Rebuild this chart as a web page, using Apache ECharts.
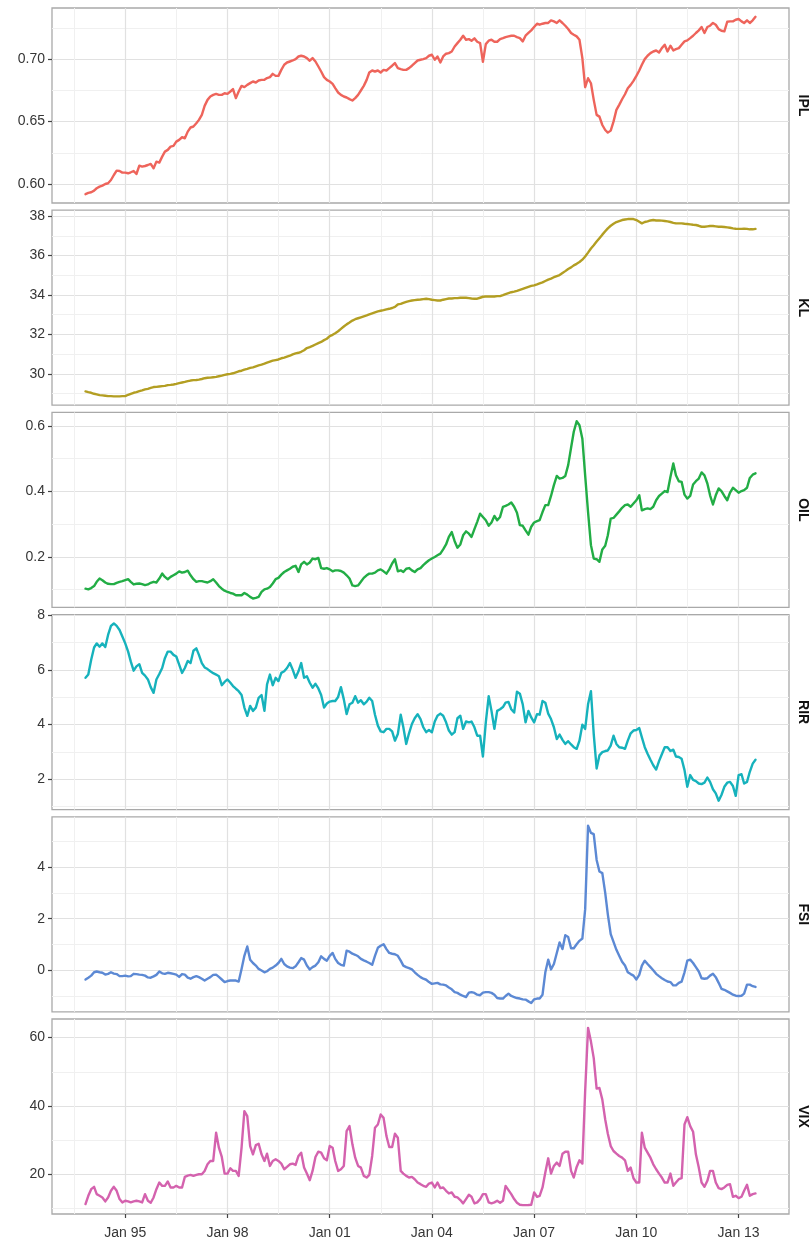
<!DOCTYPE html>
<html>
<head>
<meta charset="utf-8">
<title>IPL, KL, OIL, RIR, FSI, VIX</title>
<script src="https://cdn.jsdelivr.net/npm/echarts@6/dist/echarts.min.js"></script>
<style>
  html, body { margin: 0; padding: 0; background: #ffffff; }
  #chart { width: 811px; height: 1241px; }
</style>
</head>
<body>
<div id="chart"></div>
<script>
// Monthly observations, November 1993 through July 2013
const START_YEAR = 1993;
const START_MONTH = 10; // 0-based: November

const IPL = [
  0.5920, 0.5930,
  0.5935, 0.5948, 0.5967, 0.5980, 0.5988, 0.6001, 0.6007, 0.6033, 0.6073, 0.6108, 0.6105, 0.6092,
  0.6092, 0.6087, 0.6095, 0.6105, 0.6081, 0.6148, 0.6140, 0.6145, 0.6153, 0.6162, 0.6127, 0.6180,
  0.6172, 0.6220, 0.6260, 0.6274, 0.6300, 0.6306, 0.6340, 0.6354, 0.6375, 0.6367, 0.6420, 0.6453,
  0.6461, 0.6487, 0.6514, 0.6554, 0.6626, 0.6674, 0.6701, 0.6714, 0.6722, 0.6714, 0.6714, 0.6727,
  0.6722, 0.6741, 0.6760, 0.6688, 0.6741, 0.6786, 0.6776, 0.6794, 0.6808, 0.6821, 0.6813, 0.6829,
  0.6834, 0.6834, 0.6848, 0.6856, 0.6882, 0.6866, 0.6866, 0.6914, 0.6955, 0.6973, 0.6981, 0.6989,
  0.7000, 0.7021, 0.7027, 0.7021, 0.7008, 0.6987, 0.7008, 0.6981, 0.6941, 0.6901, 0.6856, 0.6834,
  0.6821, 0.6802, 0.6768, 0.6733, 0.6714, 0.6701, 0.6693, 0.6680, 0.6669, 0.6688, 0.6714, 0.6749,
  0.6786, 0.6834, 0.6893, 0.6909, 0.6901, 0.6909, 0.6893, 0.6914, 0.6909, 0.6928, 0.6947, 0.6968,
  0.6928, 0.6920, 0.6914, 0.6914, 0.6928, 0.6947, 0.6968, 0.6989, 0.6995, 0.7000, 0.7008, 0.7027,
  0.7035, 0.6995, 0.7021, 0.6973, 0.7021, 0.7043, 0.7048, 0.7061, 0.7101, 0.7128, 0.7155, 0.7187,
  0.7155, 0.7160, 0.7147, 0.7166, 0.7139, 0.7128, 0.6979, 0.7120, 0.7147, 0.7155, 0.7139, 0.7139,
  0.7160, 0.7168, 0.7176, 0.7182, 0.7187, 0.7187, 0.7176, 0.7168, 0.7142, 0.7187, 0.7209, 0.7230,
  0.7257, 0.7283, 0.7275, 0.7283, 0.7289, 0.7289, 0.7310, 0.7302, 0.7289, 0.7310, 0.7289, 0.7267,
  0.7241, 0.7209, 0.7195, 0.7182, 0.7155, 0.7008, 0.6775, 0.6847, 0.6807, 0.6674, 0.6554, 0.6540,
  0.6473, 0.6433, 0.6412, 0.6428, 0.6500, 0.6594, 0.6634, 0.6679, 0.6719, 0.6767, 0.6794, 0.6826,
  0.6866, 0.6909, 0.6955, 0.7000, 0.7027, 0.7048, 0.7061, 0.7069, 0.7053, 0.7088, 0.7115, 0.7061,
  0.7107, 0.7069, 0.7080, 0.7088, 0.7115, 0.7142, 0.7150, 0.7168, 0.7187, 0.7209, 0.7230, 0.7257,
  0.7209, 0.7257, 0.7267, 0.7289, 0.7275, 0.7240, 0.7227, 0.7222, 0.7299, 0.7302, 0.7302, 0.7315,
  0.7321, 0.7302, 0.7289, 0.7310, 0.7289, 0.7310, 0.7338
];

const KL = [
  29.11, 29.07,
  29.04, 28.99, 28.96, 28.92, 28.91, 28.89, 28.87, 28.87, 28.86, 28.86, 28.86, 28.87,
  28.87, 28.94, 28.99, 29.04, 29.07, 29.12, 29.16, 29.21, 29.24, 29.29, 29.33, 29.34,
  29.36, 29.38, 29.39, 29.43, 29.44, 29.46, 29.49, 29.53, 29.56, 29.59, 29.63, 29.66,
  29.68, 29.69, 29.71, 29.74, 29.78, 29.80, 29.81, 29.83, 29.85, 29.88, 29.91, 29.95,
  29.98, 30.00, 30.03, 30.08, 30.13, 30.16, 30.21, 30.25, 30.30, 30.33, 30.38, 30.43,
  30.47, 30.52, 30.57, 30.62, 30.67, 30.70, 30.73, 30.79, 30.82, 30.87, 30.92, 30.99,
  31.04, 31.07, 31.12, 31.20, 31.31, 31.36, 31.42, 31.49, 31.56, 31.62, 31.71, 31.78,
  31.91, 31.98, 32.06, 32.16, 32.28, 32.40, 32.51, 32.60, 32.70, 32.77, 32.82, 32.87,
  32.92, 32.97, 33.02, 33.07, 33.12, 33.17, 33.20, 33.23, 33.27, 33.30, 33.34, 33.40,
  33.52, 33.55, 33.60, 33.65, 33.69, 33.72, 33.74, 33.76, 33.77, 33.79, 33.81, 33.79,
  33.76, 33.74, 33.72, 33.72, 33.76, 33.79, 33.82, 33.82, 33.84, 33.84, 33.86, 33.86,
  33.86, 33.84, 33.82, 33.81, 33.81, 33.86, 33.91, 33.92, 33.92, 33.92, 33.92, 33.94,
  33.94, 33.99, 34.04, 34.09, 34.14, 34.17, 34.21, 34.26, 34.31, 34.36, 34.41, 34.46,
  34.49, 34.54, 34.59, 34.64, 34.71, 34.78, 34.83, 34.90, 34.96, 35.01, 35.11, 35.21,
  35.32, 35.40, 35.50, 35.58, 35.67, 35.79, 35.95, 36.15, 36.36, 36.52, 36.71, 36.88,
  37.06, 37.23, 37.38, 37.51, 37.61, 37.70, 37.75, 37.80, 37.83, 37.85, 37.85, 37.85,
  37.80, 37.71, 37.63, 37.70, 37.73, 37.78, 37.80, 37.78, 37.78, 37.77, 37.75, 37.73,
  37.70, 37.66, 37.63, 37.63, 37.63, 37.61, 37.60, 37.58, 37.56, 37.55, 37.51, 37.46,
  37.46, 37.48, 37.50, 37.50, 37.48, 37.46, 37.46, 37.45, 37.43, 37.41, 37.38, 37.36,
  37.35, 37.35, 37.36, 37.35, 37.33, 37.33, 37.35
];

const OIL = [
  0.103, 0.101,
  0.105, 0.111, 0.124, 0.134, 0.129, 0.122, 0.118, 0.117, 0.117, 0.121, 0.124, 0.126,
  0.129, 0.132, 0.124, 0.116, 0.118, 0.119, 0.117, 0.114, 0.116, 0.121, 0.124, 0.122,
  0.134, 0.149, 0.139, 0.132, 0.139, 0.144, 0.149, 0.156, 0.152, 0.154, 0.158, 0.144,
  0.132, 0.124, 0.126, 0.126, 0.124, 0.122, 0.126, 0.132, 0.122, 0.111, 0.103, 0.097,
  0.093, 0.090, 0.088, 0.083, 0.083, 0.083, 0.090, 0.085, 0.078, 0.073, 0.075, 0.078,
  0.093, 0.101, 0.103, 0.108, 0.119, 0.132, 0.136, 0.146, 0.154, 0.159, 0.164, 0.170,
  0.173, 0.154, 0.177, 0.185, 0.177, 0.183, 0.195, 0.193, 0.197, 0.166, 0.164, 0.166,
  0.162, 0.156, 0.159, 0.159, 0.157, 0.152, 0.144, 0.134, 0.113, 0.111, 0.113, 0.124,
  0.136, 0.144, 0.149, 0.149, 0.152, 0.159, 0.162, 0.156, 0.149, 0.162, 0.180, 0.193,
  0.156, 0.159, 0.154, 0.164, 0.166, 0.159, 0.154, 0.162, 0.166, 0.175, 0.183, 0.190,
  0.195, 0.200, 0.205, 0.210, 0.223, 0.238, 0.261, 0.276, 0.248, 0.228, 0.238, 0.266,
  0.278, 0.271, 0.261, 0.285, 0.307, 0.332, 0.322, 0.312, 0.295, 0.305, 0.325, 0.312,
  0.322, 0.353, 0.356, 0.360, 0.366, 0.353, 0.335, 0.297, 0.295, 0.281, 0.268, 0.292,
  0.305, 0.309, 0.312, 0.337, 0.358, 0.358, 0.386, 0.419, 0.447, 0.439, 0.441, 0.447,
  0.480, 0.533, 0.582, 0.614, 0.602, 0.561, 0.449, 0.337, 0.236, 0.195, 0.193, 0.185,
  0.223, 0.234, 0.266, 0.317, 0.319, 0.329, 0.339, 0.350, 0.358, 0.360, 0.353, 0.363,
  0.373, 0.388, 0.342, 0.346, 0.348, 0.346, 0.353, 0.373, 0.386, 0.393, 0.401, 0.398,
  0.444, 0.485, 0.449, 0.431, 0.429, 0.390, 0.378, 0.386, 0.421, 0.431, 0.439, 0.458,
  0.449, 0.424, 0.388, 0.360, 0.388, 0.409, 0.401, 0.386, 0.373, 0.396, 0.411, 0.404,
  0.396, 0.401, 0.404, 0.411, 0.441, 0.451, 0.455
];

const RIR = [
  5.71, 5.83,
  6.37, 6.82, 6.97, 6.85, 6.97, 6.84, 7.28, 7.61, 7.70, 7.61, 7.46, 7.22,
  6.97, 6.67, 6.31, 5.97, 6.13, 6.21, 5.89, 5.79, 5.65, 5.37, 5.16, 5.65,
  5.85, 6.07, 6.43, 6.67, 6.67, 6.55, 6.49, 6.19, 5.89, 6.07, 6.33, 6.25,
  6.70, 6.79, 6.55, 6.25, 6.09, 6.03, 5.95, 5.88, 5.83, 5.77, 5.44, 5.56,
  5.65, 5.53, 5.41, 5.31, 5.22, 5.08, 4.62, 4.32, 4.68, 4.50, 4.62, 4.98,
  5.08, 4.50, 5.47, 5.83, 5.44, 5.71, 5.59, 5.89, 5.95, 6.07, 6.25, 6.01,
  5.71, 5.95, 6.25, 5.71, 5.77, 5.53, 5.35, 5.49, 5.32, 5.08, 4.62, 4.77,
  4.84, 4.86, 4.86, 5.01, 5.37, 4.92, 4.38, 4.74, 4.80, 5.04, 4.80, 4.89,
  4.74, 4.84, 4.98, 4.86, 4.36, 3.96, 3.75, 3.72, 3.84, 3.84, 3.75, 3.41,
  3.65, 4.36, 3.90, 3.29, 3.68, 4.02, 4.23, 4.38, 4.20, 3.90, 3.72, 3.80,
  3.72, 4.11, 4.32, 4.40, 4.32, 4.08, 3.78, 3.63, 3.72, 4.23, 4.32, 3.84,
  4.11, 4.08, 4.11, 3.90, 3.59, 3.59, 2.83, 4.08, 5.04, 4.50, 3.84, 4.50,
  4.56, 4.64, 4.80, 4.83, 4.56, 4.44, 5.20, 5.13, 4.74, 4.08, 4.50, 4.26,
  4.08, 4.38, 4.36, 4.86, 4.80, 4.40, 4.20, 3.90, 3.47, 3.63, 3.44, 3.29,
  3.39, 3.27, 3.17, 3.11, 3.41, 3.99, 3.84, 4.74, 5.22, 3.65, 2.39, 2.87,
  2.99, 3.03, 3.05, 3.23, 3.59, 3.29, 3.17, 3.15, 3.11, 3.41, 3.68, 3.78,
  3.80, 3.87, 3.53, 3.17, 2.93, 2.71, 2.51, 2.35, 2.66, 2.91, 3.17, 3.17,
  3.03, 3.08, 2.83, 2.81, 2.75, 2.33, 1.72, 2.15, 1.97, 1.93, 1.84, 1.82,
  1.87, 2.06, 1.90, 1.63, 1.48, 1.21, 1.42, 1.72, 1.87, 1.90, 1.75, 1.39,
  2.15, 2.18, 1.84, 1.90, 2.27, 2.57, 2.71
];

const FSI = [
  -0.36, -0.29,
  -0.21, -0.08, -0.05, -0.08, -0.10, -0.17, -0.14, -0.08, -0.13, -0.15, -0.23, -0.23,
  -0.21, -0.24, -0.23, -0.14, -0.15, -0.17, -0.18, -0.21, -0.28, -0.29, -0.24, -0.18,
  -0.05, -0.12, -0.14, -0.10, -0.12, -0.14, -0.17, -0.26, -0.15, -0.17, -0.29, -0.33,
  -0.27, -0.23, -0.27, -0.33, -0.40, -0.33, -0.27, -0.18, -0.17, -0.26, -0.36, -0.46,
  -0.42, -0.40, -0.40, -0.40, -0.44, 0.05, 0.56, 0.92, 0.41, 0.28, 0.18, 0.05,
  -0.01, -0.08, -0.04, 0.05, 0.10, 0.18, 0.28, 0.44, 0.24, 0.15, 0.10, 0.08,
  0.15, 0.31, 0.47, 0.41, 0.18, 0.03, 0.12, 0.18, 0.31, 0.54, 0.44, 0.37,
  0.56, 0.67, 0.44, 0.28, 0.21, 0.18, 0.76, 0.72, 0.64, 0.60, 0.54, 0.44,
  0.38, 0.33, 0.28, 0.21, 0.56, 0.87, 0.95, 1.01, 0.82, 0.67, 0.64, 0.62,
  0.56, 0.37, 0.18, 0.12, 0.08, 0.03, -0.08, -0.18, -0.27, -0.33, -0.37, -0.46,
  -0.53, -0.51, -0.49, -0.55, -0.56, -0.59, -0.67, -0.74, -0.85, -0.88, -0.95, -1.00,
  -1.04, -0.87, -0.85, -0.88, -0.95, -0.97, -0.87, -0.85, -0.85, -0.88, -0.95, -1.08,
  -1.10, -1.10, -1.00, -0.91, -1.00, -1.04, -1.08, -1.10, -1.13, -1.14, -1.21, -1.27,
  -1.13, -1.10, -1.10, -0.95, -0.08, 0.41, 0.03, 0.24, 0.67, 1.08, 0.82, 1.36,
  1.29, 0.85, 0.85, 1.01, 1.14, 1.23, 2.36, 5.61, 5.33, 5.28, 4.28, 3.83,
  3.77, 3.00, 2.17, 1.40, 1.10, 0.79, 0.56, 0.33, 0.18, -0.08, -0.15, -0.21,
  -0.36, -0.18, 0.18, 0.37, 0.24, 0.12, 0.00, -0.14, -0.23, -0.31, -0.38, -0.44,
  -0.46, -0.59, -0.59, -0.49, -0.44, -0.08, 0.37, 0.41, 0.28, 0.12, -0.05, -0.31,
  -0.33, -0.31, -0.21, -0.14, -0.27, -0.49, -0.72, -0.76, -0.82, -0.88, -0.95, -0.99,
  -1.00, -0.99, -0.91, -0.56, -0.56, -0.62, -0.65
];

const VIX = [
  11.26, 13.69,
  15.63, 16.31, 14.17, 13.69, 13.20, 12.04, 13.20, 15.15, 16.31, 15.15, 12.72, 11.75,
  12.23, 12.04, 11.75, 12.04, 12.23, 12.04, 11.75, 14.17, 12.23, 11.65, 13.20, 15.63,
  17.57, 16.60, 16.60, 17.86, 16.12, 16.12, 16.60, 16.12, 16.12, 19.22, 19.61, 19.81,
  19.51, 19.81, 20.00, 20.00, 20.97, 22.91, 23.88, 23.88, 32.14, 27.77, 25.05, 20.19,
  20.19, 21.75, 20.97, 20.97, 19.51, 27.77, 38.45, 36.99, 28.25, 25.83, 28.54, 28.93,
  25.83, 23.88, 26.02, 22.43, 23.88, 24.37, 23.88, 23.11, 21.46, 22.14, 22.91, 23.11,
  22.72, 25.34, 26.31, 21.94, 20.19, 18.25, 20.97, 25.05, 26.60, 26.31, 24.66, 24.08,
  28.25, 27.77, 23.88, 20.97, 21.46, 22.43, 32.62, 34.08, 28.74, 24.85, 22.43, 21.94,
  19.51, 19.03, 19.81, 25.34, 33.59, 34.56, 37.48, 36.50, 31.17, 27.96, 27.96, 31.84,
  30.68, 20.97, 20.19, 19.51, 19.03, 19.22, 18.54, 17.57, 17.09, 16.60, 16.31, 17.28,
  17.57, 16.12, 17.57, 15.92, 16.12, 15.15, 14.37, 14.66, 13.40, 13.20, 12.43, 11.46,
  12.72, 13.98, 13.40, 11.46, 11.75, 12.72, 14.17, 14.17, 11.75, 11.46, 11.75, 12.23,
  11.65, 12.23, 16.60, 15.34, 14.17, 12.72, 11.65, 11.07, 10.95, 10.95, 11.00, 11.07,
  14.66, 13.40, 13.69, 16.12, 20.49, 24.66, 20.19, 22.43, 23.40, 22.43, 26.02, 26.60,
  26.60, 20.97, 19.03, 22.14, 24.08, 23.11, 44.27, 62.85, 58.83, 53.98, 45.05, 45.24,
  41.84, 36.02, 31.84, 28.25, 26.80, 26.02, 25.34, 24.85, 24.08, 20.97, 21.94, 18.83,
  17.57, 17.57, 32.14, 27.77, 26.31, 24.85, 22.91, 21.46, 20.19, 19.03, 17.57, 17.57,
  20.19, 16.60, 17.57, 18.54, 18.83, 34.56, 36.70, 34.08, 32.43, 25.83, 21.94, 17.57,
  16.31, 18.06, 20.97, 20.97, 17.57, 15.92, 15.63, 16.12, 16.89, 17.09, 13.40, 13.69,
  13.01, 13.40, 15.15, 16.89, 13.69, 14.17, 14.37
];

// Panel labels (strip text) and line colours
const PANEL_NAMES = ['IPL', 'KL', 'OIL', 'RIR', 'FSI', 'VIX'];
const PANEL_COLORS = ['#EE645B', '#B39E22', '#22AD45', '#16B2BC', '#5C89D4', '#D462AE'];

// Major y tick values for each panel, and decimals used in their labels
const IPL_TICKS = [0.60, 0.65, 0.70];
const KL_TICKS = [30, 32, 34, 36, 38];
const OIL_TICKS = [0.2, 0.4, 0.6];
const RIR_TICKS = [2, 4, 6, 8];
const FSI_TICKS = [0, 2, 4];
const VIX_TICKS = [20, 40, 60];
const TICK_DIGITS = [2, 0, 1, 0, 0, 0];

// Major x ticks: January of these years
const X_TICK_YEARS = [1995, 1998, 2001, 2004, 2007, 2010, 2013];

const SERIES_VALUES = [IPL, KL, OIL, RIR, FSI, VIX];
const Y_TICKS = [IPL_TICKS, KL_TICKS, OIL_TICKS, RIR_TICKS, FSI_TICKS, VIX_TICKS];

// Dates for each observation (first of month, UTC milliseconds)
const N = IPL.length;
const DATES = [];
for (let k = 0; k < N; k++) DATES.push(Date.UTC(START_YEAR, START_MONTH + k, 1));

// Continuous scales padded by 5% of the data range on each side
function paddedExtent(lo, hi) {
  const pad = (hi - lo) * 0.05;
  return [lo - pad, hi + pad];
}
// Minor breaks halfway between majors, one extra step beyond each end
function minorBreaks(major) {
  const out = [];
  const step0 = major[1] - major[0];
  out.push(major[0] - step0 / 2);
  for (let k = 0; k < major.length - 1; k++) out.push((major[k] + major[k + 1]) / 2);
  const stepN = major[major.length - 1] - major[major.length - 2];
  out.push(major[major.length - 1] + stepN / 2);
  return out;
}

const X_EXTENT = paddedExtent(DATES[0], DATES[N - 1]);
const X_MAJOR = X_TICK_YEARS.map(y => Date.UTC(y, 0, 1));
const X_MINOR = minorBreaks(X_MAJOR).filter(v => v > X_EXTENT[0] && v < X_EXTENT[1]);

const FONT = "'Liberation Sans', Arial, Helvetica, sans-serif";
const TEXT_COLOR = '#363636';
const PANEL_LEFT = 52, PANEL_RIGHT = 22, PANEL_TOP = 8, PANEL_STEP = 202.2, PANEL_HEIGHT = 195;
const MAJOR_GRID = { color: '#e1e1e1', width: 1.2 };
const MINOR_GRID = { color: '#f0f0f0', width: 1 };

const grids = [], xAxes = [], yAxes = [], series = [];

PANEL_NAMES.forEach((name, p) => {
  const vals = SERIES_VALUES[p];
  const yExt = paddedExtent(Math.min(...vals), Math.max(...vals));
  const yMajor = Y_TICKS[p];
  const yMinor = minorBreaks(yMajor).filter(v => v > yExt[0] && v < yExt[1]);
  const bottom = p === PANEL_NAMES.length - 1;
  const digits = TICK_DIGITS[p];

  grids.push({
    left: PANEL_LEFT, right: PANEL_RIGHT,
    top: PANEL_TOP + p * PANEL_STEP, height: PANEL_HEIGHT,
    show: true, backgroundColor: '#ffffff',
    borderColor: '#a9a9a9', borderWidth: 1.3,
    containLabel: false, outerBoundsMode: 'none'
  });

  // major x axis on a millisecond scale (labels only on the bottom panel)
  xAxes.push({
    type: 'value', gridIndex: p, min: X_EXTENT[0], max: X_EXTENT[1],
    axisLine: { show: false },
    axisTick: { show: bottom, customValues: X_MAJOR, length: 4, lineStyle: { color: '#444', width: 1.2 } },
    axisLabel: {
      show: bottom, customValues: X_MAJOR, margin: 12,
      color: TEXT_COLOR, fontSize: 14, fontFamily: FONT,
      formatter: v => 'Jan ' + String(new Date(v).getUTCFullYear()).slice(2)
    },
    splitLine: { show: true, lineStyle: MAJOR_GRID }
  });
  // minor x grid lines
  xAxes.push({
    type: 'value', gridIndex: p, min: X_EXTENT[0], max: X_EXTENT[1],
    axisLine: { show: false },
    axisTick: { show: false, customValues: X_MINOR },
    axisLabel: { show: false, customValues: X_MINOR },
    splitLine: { show: true, lineStyle: MINOR_GRID }
  });

  // major y axis with tick labels
  yAxes.push({
    type: 'value', gridIndex: p, min: yExt[0], max: yExt[1], position: 'left',
    axisLine: { show: false },
    axisTick: { show: true, customValues: yMajor, length: 4, lineStyle: { color: '#444', width: 1.2 } },
    axisLabel: {
      show: true, customValues: yMajor, margin: 7,
      color: TEXT_COLOR, fontSize: 14, fontFamily: FONT,
      formatter: v => Number(v).toFixed(digits)
    },
    splitLine: { show: true, lineStyle: MAJOR_GRID }
  });
  // minor y grid lines, carrying the panel's strip label on the right
  yAxes.push({
    type: 'value', gridIndex: p, min: yExt[0], max: yExt[1], position: 'right',
    name: name, nameLocation: 'middle', nameRotate: -90, nameGap: 7,
    nameTextStyle: { fontFamily: FONT, fontWeight: 'bold', fontSize: 14, color: '#111' },
    axisLine: { show: false },
    axisTick: { show: false, customValues: yMinor },
    axisLabel: { show: false, customValues: yMinor },
    splitLine: { show: true, lineStyle: MINOR_GRID }
  });

  series.push({
    name: name, type: 'line',
    xAxisIndex: 2 * p, yAxisIndex: 2 * p,
    data: DATES.map((d, k) => [d, vals[k]]),
    showSymbol: false, symbol: 'none', silent: true,
    lineStyle: { color: PANEL_COLORS[p], width: 2.4, join: 'round', cap: 'round' },
    z: 5
  });
});

const chart = echarts.init(document.getElementById('chart'), null, { renderer: 'canvas' });
chart.setOption({
  backgroundColor: '#ffffff',
  animation: false,
  grid: grids,
  xAxis: xAxes,
  yAxis: yAxes,
  series: series
});
</script>
</body>
</html>
